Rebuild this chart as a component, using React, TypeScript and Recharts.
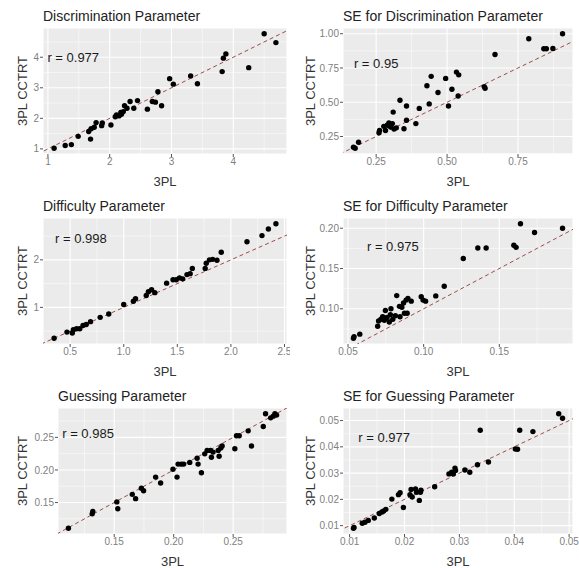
import { ScatterChart, Scatter, XAxis, YAxis, CartesianGrid, ReferenceLine, ReferenceDot } from "recharts";

const FONT = '"Liberation Sans", Arial, sans-serif';

// Discrimination parameter (3PL vs 3PL CCTRT)
const discrim3PL = [1.10, 1.28, 1.38, 1.49, 1.69, 1.66, 1.70, 1.75, 1.78, 1.87, 1.88, 2.02, 2.09, 2.11, 2.15, 2.18, 2.19, 2.22, 2.24, 2.28, 2.33, 2.39, 2.45, 2.61, 2.69, 2.74, 2.78, 2.84, 2.97, 3.03, 3.31, 3.42, 3.82, 3.84, 3.88, 4.25, 4.50, 4.69];
const discrimCCTRT = [1.02, 1.11, 1.14, 1.41, 1.32, 1.57, 1.66, 1.71, 1.86, 1.76, 1.85, 1.78, 2.05, 2.11, 2.08, 2.19, 2.13, 2.22, 2.41, 2.33, 2.55, 2.33, 2.58, 2.30, 2.55, 2.53, 2.87, 2.41, 3.30, 3.12, 3.39, 3.13, 3.53, 3.97, 4.11, 3.66, 4.77, 4.48];

// SE for discrimination
const seDiscrim3PL = [0.170, 0.176, 0.188, 0.260, 0.262, 0.277, 0.283, 0.289, 0.295, 0.301, 0.307, 0.313, 0.310, 0.321, 0.334, 0.348, 0.357, 0.357, 0.390, 0.402, 0.429, 0.437, 0.444, 0.468, 0.495, 0.505, 0.517, 0.533, 0.539, 0.541, 0.631, 0.634, 0.669, 0.788, 0.841, 0.850, 0.873, 0.907];
const seDiscrimCCTRT = [0.171, 0.164, 0.208, 0.277, 0.294, 0.324, 0.294, 0.332, 0.349, 0.319, 0.344, 0.305, 0.428, 0.313, 0.515, 0.307, 0.369, 0.472, 0.344, 0.455, 0.620, 0.488, 0.689, 0.571, 0.674, 0.472, 0.595, 0.720, 0.546, 0.700, 0.614, 0.602, 0.848, 0.963, 0.890, 0.890, 0.892, 1.000];

// Difficulty
const diff3PL = [0.35, 0.47, 0.52, 0.53, 0.56, 0.59, 0.62, 0.65, 0.69, 0.78, 0.86, 1.00, 1.09, 1.11, 1.21, 1.23, 1.26, 1.29, 1.40, 1.46, 1.49, 1.52, 1.55, 1.59, 1.62, 1.64, 1.76, 1.77, 1.80, 1.83, 1.87, 1.91, 2.15, 2.29, 2.35, 2.42];
const diffCCTRT = [0.35, 0.48, 0.46, 0.53, 0.55, 0.55, 0.62, 0.64, 0.70, 0.79, 0.86, 1.06, 1.13, 1.18, 1.25, 1.33, 1.37, 1.31, 1.51, 1.58, 1.58, 1.62, 1.60, 1.69, 1.71, 1.82, 1.82, 1.93, 2.00, 2.01, 1.99, 2.16, 2.38, 2.51, 2.65, 2.76];

// SE for difficulty
const seDiff3PL = [0.0536, 0.0540, 0.0578, 0.0696, 0.0702, 0.0718, 0.0729, 0.0740, 0.0747, 0.0758, 0.0773, 0.0780, 0.0784, 0.0796, 0.0813, 0.0822, 0.0840, 0.0844, 0.0856, 0.0867, 0.0873, 0.0884, 0.0896, 0.0891, 0.0918, 0.0984, 0.0996, 0.1013, 0.1080, 0.1136, 0.1262, 0.1358, 0.1413, 0.1596, 0.1611, 0.1640, 0.1733, 0.1918];
const seDiffCCTRT = [0.0634, 0.0655, 0.0685, 0.0784, 0.0849, 0.0871, 0.0901, 0.0858, 0.0978, 0.0892, 0.0836, 0.0927, 0.1000, 0.0871, 0.0914, 0.1164, 0.1030, 0.0901, 0.1020, 0.1073, 0.0944, 0.1108, 0.1129, 0.0944, 0.1095, 0.1151, 0.1108, 0.1095, 0.1160, 0.1280, 0.1625, 0.1754, 0.1754, 0.1789, 0.1763, 0.2056, 0.1948, 0.2000];

// Guessing
const guess3PL = [0.1115, 0.1315, 0.1320, 0.1522, 0.1530, 0.1652, 0.1680, 0.1728, 0.1747, 0.1848, 0.1890, 0.1994, 0.2028, 0.2037, 0.2065, 0.2084, 0.2135, 0.2197, 0.2205, 0.2233, 0.2261, 0.2281, 0.2309, 0.2317, 0.2331, 0.2374, 0.2382, 0.2396, 0.2407, 0.2514, 0.2528, 0.2551, 0.2626, 0.2654, 0.2753, 0.2772, 0.2815, 0.2837, 0.2851, 0.2865];
const guessCCTRT = [0.1105, 0.1326, 0.1363, 0.1510, 0.1405, 0.1626, 0.1560, 0.1720, 0.1680, 0.1890, 0.1800, 0.2010, 0.1890, 0.2090, 0.2090, 0.2090, 0.2116, 0.2180, 0.2090, 0.1958, 0.2247, 0.2300, 0.2300, 0.2195, 0.2274, 0.2300, 0.2211, 0.2337, 0.2368, 0.2326, 0.2526, 0.2526, 0.2600, 0.2368, 0.2668, 0.2863, 0.2800, 0.2826, 0.2863, 0.2842];

// SE for guessing
const seGuess3PL = [0.0107, 0.0108, 0.0123, 0.0128, 0.0134, 0.0145, 0.0154, 0.0159, 0.0162, 0.0166, 0.0177, 0.0189, 0.0192, 0.0198, 0.0210, 0.0212, 0.0214, 0.0220, 0.0222, 0.0227, 0.0229, 0.0230, 0.0255, 0.0281, 0.0286, 0.0289, 0.0292, 0.0293, 0.0310, 0.0319, 0.0333, 0.0338, 0.0353, 0.0402, 0.0406, 0.0410, 0.0434, 0.0481, 0.0488];
const seGuessCCTRT = [0.0090, 0.0093, 0.0109, 0.0113, 0.0120, 0.0129, 0.0146, 0.0152, 0.0156, 0.0162, 0.0201, 0.0218, 0.0225, 0.0169, 0.0218, 0.0238, 0.0209, 0.0240, 0.0227, 0.0196, 0.0227, 0.0235, 0.0248, 0.0297, 0.0303, 0.0297, 0.0319, 0.0310, 0.0312, 0.0303, 0.0332, 0.0463, 0.0342, 0.0392, 0.0391, 0.0463, 0.0458, 0.0526, 0.0509];

const titles = [
  "Discrimination Parameter",
  "SE for Discrimination Parameter",
  "Difficulty Parameter",
  "SE for Difficulty Parameter",
  "Guessing Parameter",
  "SE for Guessing Parameter",
];
const rLabels = ["r = 0.977", "r = 0.95", "r = 0.998", "r = 0.975", "r = 0.985", "r = 0.977"];

type Panel = {
  xs: number[];
  ys: number[];
  rAt: [number, number];
  xTicks: number[];
  yTicks: number[];
  xMinor: number[];
  yMinor: number[];
  xDigits: number;
  yDigits: number;
};

const panels: Panel[] = [
  { xs: discrim3PL, ys: discrimCCTRT, rAt: [1.41, 4.0], xTicks: [1, 2, 3, 4], yTicks: [1, 2, 3, 4], xMinor: [1.5, 2.5, 3.5, 4.5], yMinor: [1.5, 2.5, 3.5, 4.5], xDigits: 0, yDigits: 0 },
  { xs: seDiscrim3PL, ys: seDiscrimCCTRT, rAt: [0.25, 0.785], xTicks: [0.25, 0.5, 0.75], yTicks: [0.25, 0.5, 0.75, 1.0], xMinor: [0.375, 0.625, 0.875], yMinor: [0.125, 0.375, 0.625, 0.875], xDigits: 2, yDigits: 2 },
  { xs: diff3PL, ys: diffCCTRT, rAt: [0.6, 2.46], xTicks: [0.5, 1.0, 1.5, 2.0, 2.5], yTicks: [1, 2], xMinor: [0.75, 1.25, 1.75, 2.25], yMinor: [0.5, 1.5, 2.5], xDigits: 1, yDigits: 0 },
  { xs: seDiff3PL, ys: seDiffCCTRT, rAt: [0.0796, 0.1776], xTicks: [0.05, 0.1, 0.15], yTicks: [0.1, 0.15, 0.2], xMinor: [0.075, 0.125, 0.175], yMinor: [0.075, 0.125, 0.175], xDigits: 2, yDigits: 2 },
  { xs: guess3PL, ys: guessCCTRT, rAt: [0.128, 0.2563], xTicks: [0.15, 0.2, 0.25], yTicks: [0.15, 0.2, 0.25], xMinor: [0.125, 0.175, 0.225, 0.275], yMinor: [0.125, 0.175, 0.225, 0.275], xDigits: 2, yDigits: 2 },
  { xs: seGuess3PL, ys: seGuessCCTRT, rAt: [0.0163, 0.0437], xTicks: [0.01, 0.02, 0.03, 0.04, 0.05], yTicks: [0.01, 0.02, 0.03, 0.04, 0.05], xMinor: [0.015, 0.025, 0.035, 0.045], yMinor: [0.015, 0.025, 0.035, 0.045], xDigits: 2, yDigits: 2 },
];

// layout
const COL_X = [0, 290];
const COL_W = [290, 289];
const ROW_Y = [0, 190, 380];
const ROW_H = [190, 190, 188];
const PLOT_LEFT = [43, 53, 43, 53, 58, 53];
const PLOT_RIGHT = [287, 283];
const PLOT_TOP = 28;
const PLOT_BOTTOM = 154;
const X_AXIS_H = 20;
const YTITLE_X = [22, 20];

// ggplot style 5% expansion
const expand = (v: number[]): [number, number] => {
  const lo = Math.min(...v);
  const hi = Math.max(...v);
  const d = (hi - lo) * 0.05;
  return [lo - d, hi + d];
};

const Dot = (p: any) => <circle cx={p.cx} cy={p.cy} r={2.7} fill="#000" />;

function PanelChart({ idx }: { idx: number }) {
  const p = panels[idx];
  const col = idx % 2;
  const row = Math.floor(idx / 2);
  const w = COL_W[col];
  const h = ROW_H[row];
  const left = PLOT_LEFT[idx];
  const right = PLOT_RIGHT[col];
  const xd = expand(p.xs);
  const yd = expand(p.ys);
  const lo = Math.min(xd[0], yd[0]);
  const hi = Math.max(xd[1], yd[1]);
  const data = p.xs.map((x, i) => ({ x, y: p.ys[i] }));
  const tickStyle = { fontSize: 10, fill: "#808080", fontFamily: FONT };

  return (
    <div style={{ position: "absolute", left: COL_X[col], top: ROW_Y[row], width: w, height: h }}>
      <ScatterChart
        width={w}
        height={h}
        margin={{ top: PLOT_TOP, right: w - right, bottom: h - PLOT_BOTTOM - X_AXIS_H, left: 0 }}
      >
        <CartesianGrid fill="#EBEBEB" stroke="#fff" strokeWidth={1.1} />
        <XAxis
          type="number"
          dataKey="x"
          domain={xd}
          allowDataOverflow
          ticks={p.xTicks}
          interval={0}
          tickFormatter={(v: number) => v.toFixed(p.xDigits)}
          axisLine={false}
          tickLine={{ stroke: "#555" }}
          tickSize={3}
          tickMargin={1}
          tick={tickStyle}
          height={X_AXIS_H}
        />
        <YAxis
          type="number"
          dataKey="y"
          domain={yd}
          allowDataOverflow
          ticks={p.yTicks}
          interval={0}
          tickFormatter={(v: number) => v.toFixed(p.yDigits)}
          axisLine={false}
          tickLine={{ stroke: "#555" }}
          tickSize={3}
          tickMargin={1}
          tick={tickStyle}
          width={left}
        />
        {p.xMinor.map((v) => (
          <ReferenceLine key={`vx${v}`} x={v} stroke="#fff" strokeWidth={0.5} />
        ))}
        {p.yMinor.map((v) => (
          <ReferenceLine key={`hy${v}`} y={v} stroke="#fff" strokeWidth={0.5} />
        ))}
        <ReferenceLine
          segment={[{ x: lo, y: lo }, { x: hi, y: hi }]}
          stroke="#9c4d4a"
          strokeDasharray="4 3"
          strokeWidth={1}
          ifOverflow="hidden"
        />
        <Scatter data={data} shape={Dot} isAnimationActive={false} />
        <ReferenceDot
          x={p.rAt[0]}
          y={p.rAt[1]}
          r={0}
          fill="none"
          stroke="none"
          label={{ value: rLabels[idx], position: "center", fontSize: 13, fill: "#1a1a1a", fontFamily: FONT }}
        />
      </ScatterChart>
      <div
        style={{
          position: "absolute",
          left: left,
          top: 16,
          transform: "translateY(-50%)",
          fontSize: 14,
          color: "#222",
          whiteSpace: "nowrap",
          lineHeight: 1,
        }}
      >
        {titles[idx]}
      </div>
      <div
        style={{
          position: "absolute",
          left: (left + right) / 2,
          top: PLOT_BOTTOM + 27,
          transform: "translate(-50%, -50%)",
          fontSize: 13,
          color: "#333",
          whiteSpace: "nowrap",
          lineHeight: 1,
        }}
      >
        3PL
      </div>
      <div
        style={{
          position: "absolute",
          left: YTITLE_X[col],
          top: (PLOT_TOP + PLOT_BOTTOM) / 2,
          transform: "translate(-50%, -50%) rotate(-90deg)",
          fontSize: 13,
          color: "#333",
          whiteSpace: "nowrap",
          lineHeight: 1,
        }}
      >
        3PL CCTRT
      </div>
    </div>
  );
}

export default function App() {
  return (
    <div
      style={{
        position: "absolute",
        left: 0,
        top: 0,
        width: 579,
        height: 568,
        background: "#fff",
        fontFamily: FONT,
        overflow: "hidden",
      }}
    >
      {panels.map((_, i) => (
        <PanelChart key={i} idx={i} />
      ))}
    </div>
  );
}
